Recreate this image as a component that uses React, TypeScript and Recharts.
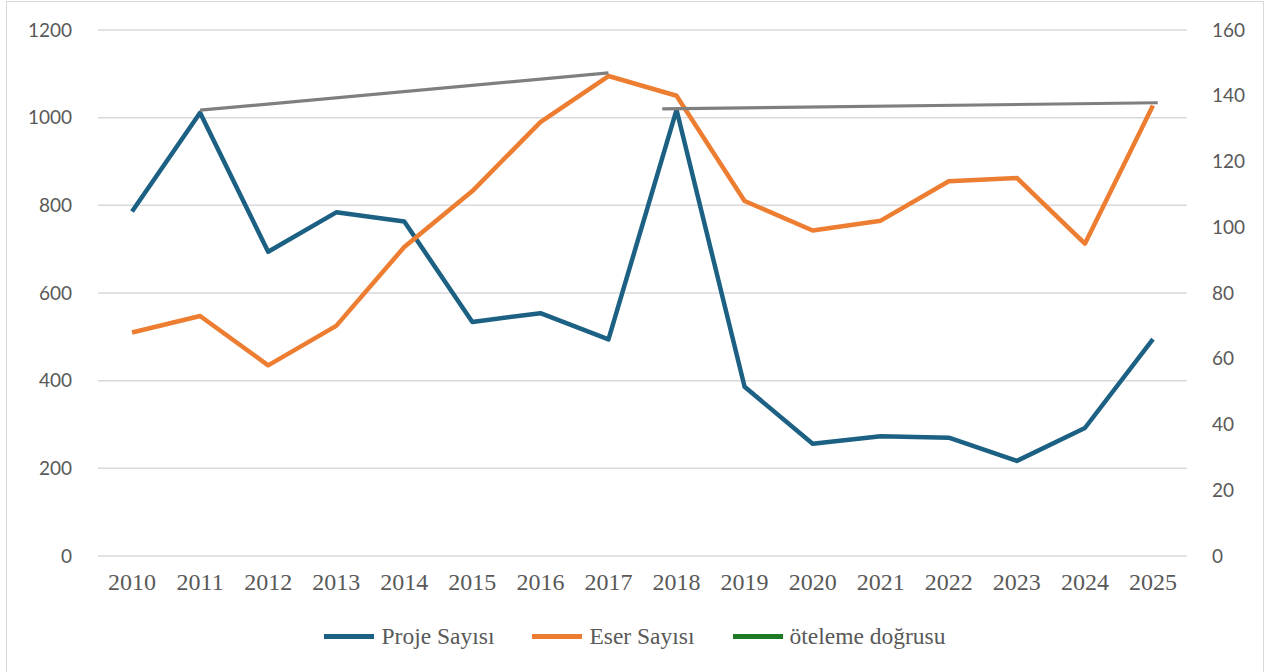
import { CartesianGrid, Legend, Line, LineChart, XAxis, YAxis } from "recharts";

const yillar = [2010, 2011, 2012, 2013, 2014, 2015, 2016, 2017, 2018, 2019, 2020, 2021, 2022, 2023, 2024, 2025];
const projeSayisi = [786, 1011, 694, 784, 763, 534, 554, 494, 1018, 386, 256, 273, 270, 217, 292, 495];
const eserSayisi = [68, 73, 58, 70, 94, 111, 132, 146, 140, 108, 99, 102, 114, 115, 95, 137];

// öteleme doğruları (sol eksen birimiyle)
const oteleme1 = [
  { yil: 2011, deger: 1017 },
  { yil: 2017, deger: 1102 },
];
const oteleme2 = [
  { yil: 2017.79, deger: 1020 },
  { yil: 2025.07, deger: 1034 },
];

const solTicks = [0, 200, 400, 600, 800, 1000, 1200];
const sagTicks = [0, 20, 40, 60, 80, 100, 120, 140, 160];

const MAVI = "#1c6184";
const TURUNCU = "#ed7d31";
const GRI = "#7f7f7f";
const YESIL = "#1f7a26";

const veri = yillar.map((yil, i) => ({ yil, proje: projeSayisi[i], eser: eserSayisi[i] }));

const legendItems = [
  { ad: "Proje Sayısı", renk: MAVI },
  { ad: "Eser Sayısı", renk: TURUNCU },
  { ad: "öteleme doğrusu", renk: YESIL },
];

function Lejant() {
  return (
    <div style={{ display: "flex", justifyContent: "center", alignItems: "center", height: 40, gap: 38 }}>
      {legendItems.map((it) => (
        <div key={it.ad} style={{ display: "flex", alignItems: "center" }}>
          <span style={{ display: "inline-block", width: 50, height: 5, background: it.renk, marginRight: 7 }} />
          <span style={{ fontFamily: "'Liberation Serif', serif", fontSize: 23.5, color: "#595959" }}>{it.ad}</span>
        </div>
      ))}
    </div>
  );
}

const sansTick = { fontSize: 19, fill: "#595959", fontFamily: "Lato, sans-serif" };

export default function App() {
  return (
    <div style={{ position: "absolute", left: 0, top: 0, width: 1270, height: 672, background: "#fff", overflow: "hidden" }}>
      <div style={{ position: "absolute", left: 6, top: 1, width: 1258, height: 672, border: "1.5px solid #d9d9d9", boxSizing: "border-box" }} />
      <LineChart width={1270} height={672} data={veri} margin={{ top: 30, right: 0, bottom: 16, left: 0 }}>
        <CartesianGrid horizontal vertical={false} stroke="#d9d9d9" strokeWidth={1.5} yAxisId="left" />
        <XAxis
          dataKey="yil"
          type="number"
          domain={[2009.5, 2025.5]}
          ticks={yillar}
          interval={0}
          height={60}
          axisLine={false}
          tickLine={false}
          tickMargin={11}
          tick={{ fontSize: 24, fill: "#595959", fontFamily: "'Liberation Serif', serif" }}
        />
        <YAxis
          yAxisId="left"
          domain={[0, 1200]}
          ticks={solTicks}
          width={98}
          axisLine={false}
          tickLine={false}
          tickMargin={20}
          tick={sansTick}
        />
        <YAxis
          yAxisId="right"
          orientation="right"
          domain={[0, 160]}
          ticks={sagTicks}
          width={83}
          axisLine={false}
          tickLine={false}
          tickMargin={19}
          tick={{ ...sansTick, textAnchor: "start" }}
        />
        <Legend verticalAlign="bottom" content={() => <Lejant />} wrapperStyle={{ height: 40 }} />
        <Line yAxisId="left" name="Proje Sayısı" dataKey="proje" stroke={MAVI} strokeWidth={4.5} dot={false} strokeLinejoin="round" isAnimationActive={false} />
        <Line yAxisId="right" name="Eser Sayısı" dataKey="eser" stroke={TURUNCU} strokeWidth={4.5} dot={false} strokeLinejoin="round" isAnimationActive={false} />
        <Line yAxisId="left" data={oteleme1} dataKey="deger" stroke={GRI} strokeWidth={3.2} dot={false} legendType="none" isAnimationActive={false} />
        <Line yAxisId="left" data={oteleme2} dataKey="deger" stroke={GRI} strokeWidth={3.2} dot={false} legendType="none" isAnimationActive={false} />
      </LineChart>
    </div>
  );
}
